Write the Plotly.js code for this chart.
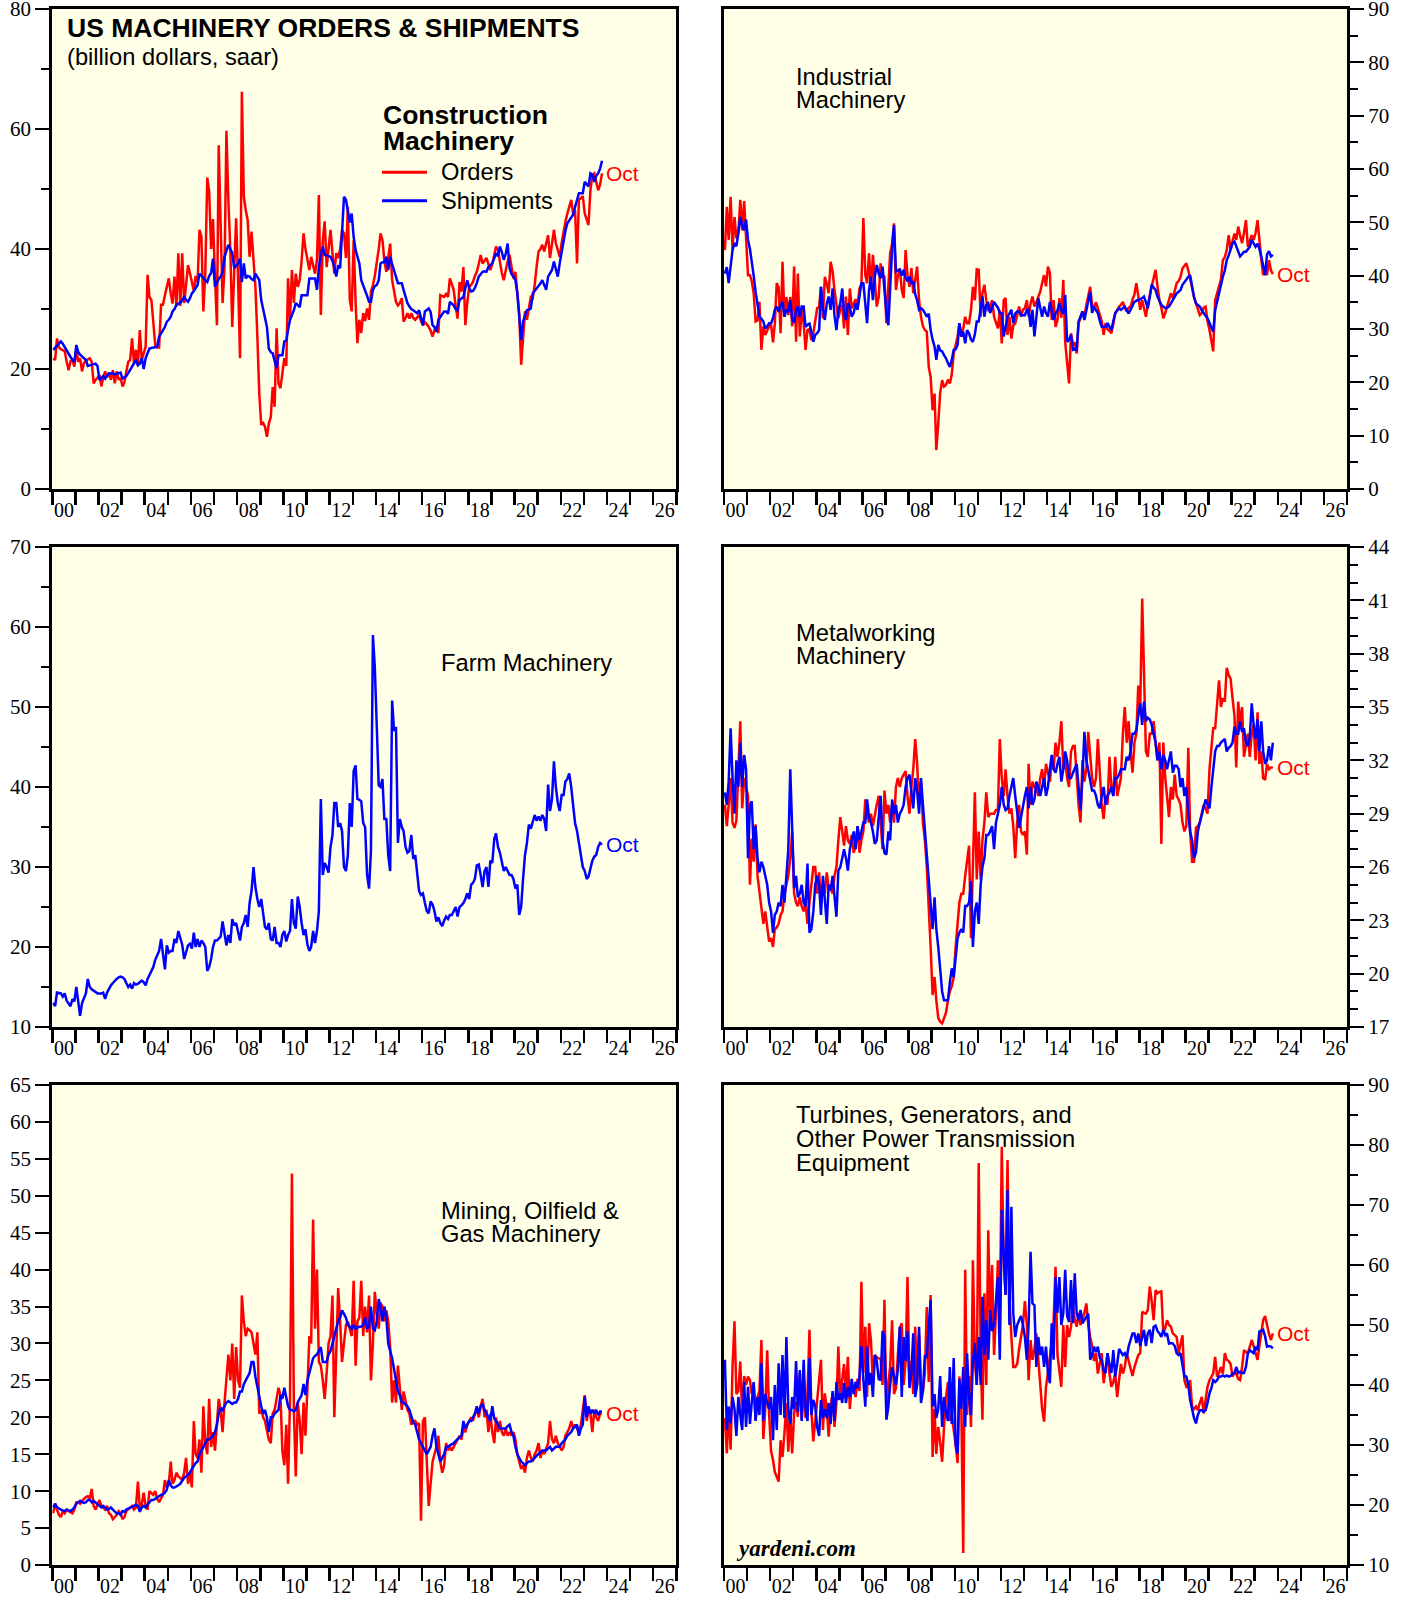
<!DOCTYPE html>
<html><head><meta charset="utf-8">
<script src="https://cdn.plot.ly/plotly-3.0.1.min.js"></script>
<style>html,body{margin:0;padding:0;background:#fff}#chart{width:1408px;height:1598px}</style>
</head><body><div id="chart"></div>
<script>
// Monthly data, Jan 2000 .. Oct 2023 (billion dollars, saar)
const startYear = 2000;
const lastLabel = "Oct";

const constructionOrders = [
21.8,21.5,25.1,23.6,23.3,23.2,23.0,21.2,19.8,21.3,21.5,20.4,
23.2,21.2,21.8,19.6,21.0,21.4,21.6,21.8,21.2,17.6,18.2,18.5,
19.0,17.1,18.5,19.6,18.7,19.3,18.2,19.8,17.6,19.6,18.2,18.5,
17.1,17.8,19.5,21.2,21.5,25.1,21.0,23.2,20.6,26.5,21.5,22.5,
23.7,35.7,32.0,31.5,27.0,24.0,23.6,23.6,30.7,30.7,32.3,33.5,
35.1,32.6,30.9,35.4,30.4,39.3,30.5,39.3,31.0,34.0,37.3,36.0,
34.3,33.0,35.5,34.5,43.2,42.0,29.6,36.0,51.9,49.6,40.0,45.0,
35.4,27.3,57.3,45.0,31.0,37.0,59.7,48.0,39.8,27.0,36.0,45.1,
35.0,21.8,66.2,48.7,46.5,44.8,38.7,42.9,38.2,33.7,25.4,15.9,
10.7,11.0,10.4,8.7,10.9,12.0,17.0,13.7,26.8,17.6,16.8,19.3,
21.8,20.5,35.1,28.2,36.5,31.0,35.9,33.7,34.8,38.0,42.6,40.0,
37.9,36.5,38.7,37.0,35.9,38.2,49.0,29.0,41.5,44.6,37.0,40.0,
43.2,39.3,35.9,39.3,38.5,40.0,43.2,42.6,38.5,47.0,31.5,29.6,
41.5,31.0,24.3,28.2,26.0,29.3,28.0,30.1,28.2,32.9,34.0,35.5,
37.6,40.0,42.6,41.5,38.0,36.2,38.5,40.9,34.8,33.0,31.2,30.6,
31.0,31.8,27.9,28.5,29.3,28.4,29.3,28.5,28.2,28.6,29.0,28.0,
27.3,27.8,27.5,27.0,26.4,25.4,26.5,27.0,26.0,32.3,32.2,32.0,
32.5,32.0,35.1,34.0,33.2,30.5,28.4,34.5,32.9,37.0,27.3,31.0,
33.7,34.0,34.5,35.5,36.2,37.5,39.0,37.6,38.0,38.5,37.5,36.5,
37.5,39.0,40.4,39.8,37.6,36.0,34.8,36.5,38.0,39.0,37.0,35.1,
36.2,33.0,29.3,20.7,26.0,29.6,28.2,30.0,32.0,31.8,34.0,37.0,
39.6,40.0,40.7,39.6,41.0,42.3,38.5,41.0,43.2,41.0,39.8,38.7,
41.0,43.2,44.5,45.9,47.0,48.2,45.9,46.5,37.6,48.2,48.5,48.8,
45.9,45.0,44.0,49.8,52.3,52.6,51.0,49.8,50.7,52.6];

const constructionShipments = [
23.2,23.6,24.0,24.3,24.6,24.2,23.6,23.0,22.5,22.0,21.5,21.2,
24.0,22.8,22.4,22.0,21.8,21.5,20.5,20.6,20.7,20.8,20.9,20.5,
18.2,18.5,18.8,18.4,18.9,19.3,19.2,19.3,19.1,19.2,19.3,19.4,
18.4,18.6,18.8,19.3,19.9,20.4,21.0,21.5,20.6,20.9,21.8,20.0,
21.8,22.6,23.4,23.5,23.6,23.6,23.7,25.4,26.0,26.5,27.0,27.9,
28.2,28.7,29.6,30.0,30.7,30.9,31.0,31.5,32.0,31.5,31.2,31.8,
32.6,33.0,33.5,34.0,35.9,35.5,35.1,34.8,34.5,35.5,36.0,38.4,
33.7,34.5,35.0,35.4,36.2,38.7,39.8,40.7,40.0,39.3,36.8,37.2,
37.6,38.4,34.5,37.6,35.1,35.5,35.4,35.0,34.8,35.9,35.3,34.8,
31.5,30.0,28.5,27.0,23.4,22.8,22.6,21.4,20.1,22.3,22.3,22.3,
24.6,24.8,26.5,28.2,29.0,29.8,31.0,30.6,30.3,32.3,32.3,32.3,
32.3,35.1,35.1,35.0,35.1,33.2,37.0,39.0,40.4,39.0,39.0,38.8,
38.7,38.0,37.0,35.4,37.3,36.8,42.6,48.7,48.2,45.9,44.4,45.9,
42.0,39.8,38.5,37.6,34.8,34.0,33.2,32.2,31.2,31.2,33.2,33.8,
34.0,34.8,37.6,37.8,37.8,38.7,36.5,38.7,37.5,36.5,35.1,34.3,
34.3,34.3,33.2,32.0,31.0,30.4,30.0,29.8,29.5,29.3,29.8,28.7,
27.3,29.6,29.8,30.1,29.5,27.3,27.0,26.2,28.2,28.6,29.0,29.6,
29.6,29.2,31.2,30.8,30.6,30.0,29.8,31.5,31.8,32.0,33.5,34.8,
33.5,32.9,33.0,33.5,34.3,35.4,35.8,36.2,36.3,36.2,37.0,37.3,
37.6,38.5,39.3,38.8,40.4,39.5,38.2,39.2,40.9,36.8,35.8,35.4,
34.8,32.6,29.3,24.8,27.9,28.8,29.8,29.9,30.1,32.6,33.0,33.4,
33.8,34.3,34.8,34.0,33.2,35.4,36.0,36.5,37.9,36.5,35.4,37.6,
39.5,41.5,43.0,44.3,44.8,45.2,45.7,47.0,48.2,49.3,49.3,49.3,
51.2,50.8,50.4,52.6,52.4,51.2,52.2,52.6,53.4,54.7];

const industrialOrders = [
44.8,52.9,46.7,54.8,44.8,51.0,47.0,48.0,54.2,48.5,54.0,47.3,
40.1,40.1,39.0,36.7,31.4,31.6,35.1,26.1,30.5,28.9,29.8,30.5,
30.8,27.5,31.0,38.6,37.8,29.2,42.6,32.3,36.0,32.6,36.0,30.5,
41.7,27.6,40.4,28.6,33.6,31.1,26.1,29.8,30.0,27.9,29.2,31.5,
33.9,34.2,37.9,32.0,39.8,38.5,36.7,42.6,40.8,37.3,34.0,32.0,
33.6,34.5,30.1,36.1,28.9,37.6,33.9,34.8,35.6,34.5,37.6,38.5,
50.8,40.1,38.6,44.2,37.3,43.9,39.8,34.2,36.0,42.3,40.0,39.8,
31.1,38.0,44.2,46.0,49.8,37.3,40.0,41.4,37.3,35.8,44.8,40.0,
37.9,41.4,36.7,39.2,41.7,35.4,32.3,30.5,29.8,29.5,22.9,21.0,
14.8,17.9,7.3,12.3,18.0,20.4,19.2,19.5,20.5,19.8,21.5,25.4,
27.0,28.6,31.1,28.6,30.1,32.3,31.1,31.1,33.6,37.9,35.4,41.2,
41.1,32.3,36.7,38.3,35.4,33.6,33.9,35.4,32.3,31.0,30.1,33.5,
27.3,35.4,35.8,28.9,32.3,28.2,30.7,31.0,33.0,34.2,32.3,33.6,
33.9,35.4,32.3,34.8,36.1,34.2,35.0,36.0,37.0,38.6,40.1,38.0,
41.7,40.5,31.7,35.4,30.4,31.7,35.8,32.1,39.2,27.6,24.0,19.8,
29.2,27.0,27.5,25.4,31.1,32.0,33.3,32.3,34.5,36.0,37.9,34.2,
34.2,35.0,33.9,33.0,31.5,28.9,31.1,30.0,29.5,29.2,31.0,33.0,
33.5,34.2,34.5,35.1,34.0,33.3,34.0,34.2,35.5,36.5,38.6,36.0,
33.6,35.4,34.0,32.3,34.5,36.5,38.0,39.5,41.1,38.0,35.4,34.0,
32.0,33.0,34.2,35.5,36.7,35.8,37.0,38.6,39.0,39.8,41.4,41.8,
42.3,41.0,39.5,37.3,36.0,34.8,33.5,32.6,33.0,34.0,34.2,31.5,
29.8,27.5,25.8,35.4,37.0,38.0,39.2,42.9,43.5,44.8,47.6,44.8,
46.5,47.9,46.7,49.2,47.5,46.1,48.0,50.4,45.4,46.5,47.6,46.7,
48.0,50.4,46.1,43.0,40.1,41.7,40.1,42.9,41.0,40.3];

const industrialShipments = [
40.4,41.6,38.6,42.5,44.8,46.1,45.5,48.0,51.0,49.5,48.5,50.5,
46.7,45.0,42.9,40.0,37.0,34.8,32.3,31.9,31.4,30.1,30.5,31.1,
31.1,32.0,33.6,34.2,33.2,34.5,35.1,32.3,33.6,33.2,35.4,32.0,
31.1,33.5,34.2,32.3,34.2,34.2,30.4,30.8,31.0,29.5,27.6,28.9,
29.2,29.8,37.9,33.9,31.7,34.8,36.1,33.6,37.6,32.5,29.8,33.6,
34.8,37.6,33.0,31.7,34.8,34.2,32.3,33.0,34.8,33.6,36.7,38.6,
38.6,35.0,31.1,37.3,39.8,35.4,39.8,42.0,40.4,39.5,41.7,37.3,
33.0,30.7,38.6,45.0,49.5,40.8,41.0,41.1,40.0,41.1,39.5,39.0,
39.8,38.6,38.9,36.5,35.4,33.6,33.9,33.6,33.0,32.3,32.9,29.8,
28.0,26.7,24.2,27.0,26.0,25.8,25.1,24.5,23.6,22.9,24.2,26.1,
26.2,27.0,31.1,28.6,29.5,27.3,29.8,29.2,28.0,27.6,29.0,31.4,
31.4,34.2,36.1,32.3,34.5,34.8,33.0,34.0,35.1,34.5,34.0,33.0,
32.9,28.6,30.5,32.3,32.9,33.6,31.1,32.9,33.3,33.3,32.6,32.6,
32.6,33.6,33.6,30.4,33.6,28.6,32.0,35.8,34.0,32.3,34.2,33.0,
32.3,35.1,33.5,31.7,32.9,33.5,34.8,33.5,32.9,36.4,27.6,28.0,
28.9,26.1,26.3,26.1,31.4,32.5,33.3,31.7,33.5,35.0,37.0,33.0,
34.2,33.5,33.0,31.5,30.4,30.4,30.4,31.1,30.5,29.8,31.5,32.9,
33.5,33.9,33.6,34.0,34.2,33.5,32.9,33.6,34.5,35.1,35.3,35.4,
35.6,35.8,36.1,35.0,33.9,36.0,38.3,37.8,37.3,36.1,35.3,34.5,
34.2,33.9,34.0,34.2,34.8,35.5,36.2,36.7,37.0,37.3,38.3,38.8,
39.5,39.8,40.1,38.0,36.0,34.8,34.5,34.2,33.5,32.9,32.5,32.0,
31.1,30.0,29.5,33.5,35.0,36.7,38.6,39.8,41.0,42.9,43.8,44.8,
46.1,46.4,45.4,44.5,43.6,44.0,44.5,44.5,45.0,45.4,46.7,46.0,
45.4,46.0,45.1,43.6,42.0,40.1,44.0,44.6,43.6,43.9];

const farmShipments = [
13.0,12.6,14.3,14.2,14.2,13.8,14.2,13.3,13.0,12.6,13.5,13.2,
15.0,13.0,11.4,13.0,13.6,14.2,16.0,15.0,14.7,14.5,14.3,14.2,
14.2,14.2,14.3,13.5,14.3,14.8,15.2,15.5,15.8,16.0,16.2,16.3,
16.2,16.0,15.5,15.0,15.3,14.8,15.5,15.3,15.4,15.6,15.8,15.6,
15.2,16.0,16.5,17.0,17.5,18.4,19.0,19.5,21.0,19.0,17.2,20.2,
19.3,19.5,19.5,21.0,20.5,22.0,21.0,20.3,18.5,19.5,20.2,20.4,
19.8,21.8,20.0,21.0,20.0,20.8,20.5,20.0,17.0,17.5,18.5,20.0,
20.8,20.8,21.0,21.3,23.2,21.5,20.2,21.5,20.5,23.5,22.7,23.0,
22.0,20.8,22.5,23.0,24.0,22.5,25.5,27.0,30.0,27.5,26.0,25.0,
26.0,24.0,22.5,22.2,23.0,21.0,20.8,22.5,20.5,20.5,20.0,21.5,
22.0,20.7,21.5,22.0,26.0,23.0,22.3,26.3,25.0,23.0,21.5,22.2,
20.3,19.5,20.0,22.0,20.5,22.0,24.5,38.5,29.0,30.5,30.0,29.3,
32.5,34.0,38.0,38.0,35.0,35.5,34.5,30.0,29.5,31.5,38.0,35.0,
42.0,42.7,38.5,38.4,38.2,35.5,35.0,29.0,27.3,32.0,59.0,55.0,
46.0,40.2,40.0,41.0,36.0,36.0,31.5,29.5,50.8,47.0,47.5,33.0,
36.0,35.0,34.5,32.5,31.8,32.0,34.0,31.0,31.5,29.0,27.0,26.5,
26.7,25.5,24.5,24.2,25.7,25.3,24.5,23.2,23.7,23.0,22.6,23.3,
23.8,23.5,24.0,24.0,24.5,25.0,23.8,25.0,25.2,25.5,26.0,26.7,
26.0,27.8,28.0,28.5,30.2,30.3,29.0,27.5,29.5,30.0,27.5,30.8,
30.5,33.5,34.2,32.5,31.8,30.5,29.5,30.0,29.5,29.0,29.0,28.5,
27.3,27.8,24.0,25.0,28.5,31.5,33.0,35.3,34.8,35.5,36.5,35.8,
36.3,35.8,36.5,36.0,34.5,40.3,37.0,38.5,43.2,40.0,38.0,37.0,
39.0,39.0,40.7,41.0,41.7,40.0,38.0,35.5,34.5,33.0,31.0,30.0,
29.5,28.5,28.8,30.0,30.8,31.3,31.5,32.5,33.0,32.8];

const metalOrders = [
29.5,28.3,29.5,31.0,28.5,28.2,28.6,31.0,34.2,29.3,31.0,30.5,
30.0,25.0,27.6,26.3,28.4,25.5,24.5,23.5,22.8,23.5,22.5,21.8,
22.0,21.5,22.5,22.6,22.8,23.3,23.5,24.5,25.0,25.5,26.5,28.0,
24.5,24.0,23.8,24.3,23.8,23.5,24.0,22.8,24.0,25.0,26.0,26.0,
24.5,25.7,24.0,25.0,24.5,25.7,24.8,24.8,24.5,25.5,26.0,27.5,
28.8,28.0,27.2,28.3,27.5,27.3,27.8,26.8,27.2,28.3,26.8,27.5,
28.0,29.8,29.0,28.5,29.0,28.3,29.0,29.5,30.0,28.5,27.0,30.3,
29.0,29.5,28.5,29.5,28.5,30.5,31.0,30.5,31.0,31.2,31.4,30.0,
29.0,30.5,31.5,33.2,31.8,29.5,30.8,28.5,27.5,26.0,24.0,21.5,
18.8,19.8,18.5,17.5,17.3,17.2,17.5,17.8,18.5,19.0,19.3,19.8,
21.5,23.0,24.0,24.5,24.5,25.5,26.5,27.2,22.0,25.5,30.2,25.3,
28.0,25.3,27.5,28.5,30.2,28.8,29.0,29.0,29.0,29.2,29.2,33.2,
31.0,30.0,31.5,30.0,29.0,29.3,28.3,26.5,28.5,29.5,28.0,27.8,
28.0,26.7,31.8,29.5,30.8,30.5,30.5,30.0,31.0,31.5,30.5,31.8,
31.3,30.8,32.0,31.5,33.0,32.2,33.0,34.2,31.5,32.0,31.0,30.5,
32.5,32.8,32.8,30.8,29.5,28.5,32.0,30.8,31.5,33.6,32.0,31.0,
30.5,31.0,33.2,31.0,29.5,28.7,30.0,29.5,32.2,30.5,30.0,32.2,
30.0,30.5,31.0,33.5,35.0,33.0,34.2,32.5,31.3,33.0,33.5,36.2,
35.0,41.1,36.0,32.5,32.2,33.5,33.5,34.2,33.0,32.0,33.0,27.3,
33.0,31.0,30.0,28.8,30.5,29.8,31.2,30.0,29.8,29.5,28.5,28.0,
28.3,32.7,28.0,26.3,26.3,28.2,28.3,28.5,29.0,29.5,29.3,29.0,
31.5,33.0,33.8,33.8,35.0,36.5,35.0,35.5,35.3,37.2,36.8,36.6,
35.5,34.5,31.6,35.3,34.0,35.0,32.2,32.8,33.5,32.2,33.5,34.0,
32.0,34.7,31.8,32.5,31.0,30.9,31.8,31.5,31.6,31.6];

const metalShipments = [
30.2,29.5,30.8,33.8,31.0,29.0,32.0,30.5,33.0,30.5,32.3,31.5,
26.5,29.5,29.7,27.0,28.3,26.5,25.7,26.3,26.0,25.5,25.0,24.0,
23.5,22.3,23.3,23.5,24.0,23.8,25.0,24.0,25.5,27.0,31.5,27.5,
24.8,25.5,24.3,24.5,25.0,24.0,23.8,26.2,22.3,22.5,23.5,25.0,
25.5,25.0,23.3,25.5,24.0,22.8,25.0,24.7,25.5,24.5,23.2,25.8,
26.0,26.5,27.0,26.5,25.8,27.0,27.5,28.0,27.0,28.3,27.5,28.0,
28.5,28.5,29.8,28.8,28.5,28.0,27.3,27.5,29.0,30.0,27.5,26.8,
26.7,28.0,27.5,29.8,29.0,29.5,28.5,29.0,29.2,29.5,30.5,31.0,
31.2,30.0,29.3,31.0,30.3,29.0,31.0,29.5,28.0,26.5,25.0,23.5,
22.5,24.3,22.5,21.5,20.0,19.0,18.5,18.5,18.5,19.5,20.3,19.8,
21.0,22.0,22.3,22.5,22.3,23.8,23.8,24.0,25.2,21.5,23.5,24.0,
22.8,25.0,26.0,26.5,27.8,27.8,28.0,28.3,27.0,28.5,29.0,29.5,
30.5,29.5,29.2,29.3,30.0,30.5,31.0,30.0,29.0,28.2,28.8,29.5,
30.0,30.5,29.3,30.5,29.5,29.8,30.8,30.5,30.0,30.5,31.0,30.0,
30.5,31.5,32.3,31.5,31.3,31.8,32.2,30.8,31.5,32.5,32.0,31.0,
31.0,31.3,31.5,31.8,30.5,29.2,31.0,33.6,32.0,31.5,30.8,30.3,
30.3,30.0,29.5,29.3,30.0,30.5,29.5,30.0,30.2,30.5,30.0,31.0,
31.0,31.2,31.5,31.5,31.5,32.2,32.0,32.5,33.5,33.5,33.7,34.5,
35.2,34.0,35.3,34.2,34.4,34.3,34.0,33.5,33.0,32.0,32.5,31.5,
32.3,32.0,31.5,32.0,32.5,31.3,31.7,31.7,31.5,30.5,31.0,30.0,
30.5,29.0,28.0,27.5,26.5,26.8,28.0,28.5,29.0,29.3,29.8,29.5,
29.3,30.5,31.5,32.5,32.8,32.8,33.0,33.1,33.2,32.5,32.7,32.8,
33.0,33.9,33.5,33.5,34.2,33.6,33.8,33.0,32.8,33.3,35.2,34.0,
33.2,34.3,32.5,34.2,32.5,31.8,32.0,32.8,32.0,33.0];

const miningOrders = [
7.0,8.3,7.5,6.8,6.5,7.3,7.0,7.5,7.3,7.2,7.0,7.5,
8.5,8.5,8.3,8.7,9.0,9.2,9.3,9.0,10.3,8.0,7.5,8.2,
8.8,8.0,7.8,7.5,8.0,7.0,6.8,6.2,6.5,6.8,7.3,7.0,
6.2,6.5,7.3,7.5,7.8,8.0,7.5,7.8,11.3,7.8,8.2,9.8,
8.0,7.5,10.0,9.8,9.5,10.0,9.0,8.5,9.0,9.5,11.5,10.5,
11.0,14.0,11.0,11.5,12.5,12.0,11.8,11.5,12.5,14.5,11.0,12.5,
10.5,19.5,15.0,14.5,17.0,12.5,21.5,16.5,15.0,22.5,16.0,18.0,
15.5,20.0,22.5,21.0,18.0,22.0,25.0,28.5,25.0,30.0,22.5,29.5,
25.0,24.0,36.5,33.0,31.0,32.0,31.8,31.5,30.0,28.5,31.5,20.5,
21.0,20.0,19.5,18.0,17.0,16.5,20.5,21.0,22.5,24.0,23.0,15.5,
13.5,19.0,11.0,22.5,53.0,21.0,12.0,22.0,19.5,15.0,22.0,17.5,
24.0,31.0,30.0,46.8,32.0,40.0,27.5,27.0,25.0,22.5,26.0,30.0,
31.0,36.5,20.0,30.0,37.5,33.0,27.5,30.0,32.5,33.0,32.0,31.0,
38.5,27.0,33.0,33.5,38.5,31.0,35.0,31.5,36.5,25.0,30.0,37.0,
34.0,32.0,35.5,35.0,33.0,34.5,33.0,29.5,22.0,25.0,22.0,27.0,
24.0,21.0,23.5,22.0,21.0,20.5,19.0,19.5,19.5,19.0,19.2,6.0,
19.5,20.0,15.0,8.0,11.0,14.0,15.0,16.0,17.5,14.0,12.5,13.5,
16.5,15.5,16.0,15.5,16.0,16.5,17.0,17.5,17.0,18.5,18.0,19.0,
19.5,20.0,19.5,20.5,21.0,20.0,21.5,22.5,20.0,21.0,18.0,20.5,
18.0,16.5,20.0,18.0,19.5,18.0,17.5,18.5,17.5,18.0,17.5,18.0,
17.0,15.0,14.0,13.0,13.5,12.5,14.5,15.5,14.5,14.0,15.0,15.5,
16.5,14.5,15.5,15.0,15.8,16.5,19.5,17.0,16.5,17.5,16.5,16.0,
15.5,16.0,17.5,18.0,18.5,19.5,18.5,19.0,18.5,18.0,19.0,21.0,
23.0,19.5,21.0,20.5,18.0,21.0,20.0,19.5,20.5,20.5];

const miningShipments = [
7.8,8.3,7.8,7.6,7.5,7.4,7.3,7.5,7.4,7.3,7.5,7.8,
8.3,8.5,8.7,8.5,8.4,8.5,8.8,8.8,8.5,8.7,8.5,8.2,
8.0,7.8,8.0,7.7,7.5,7.6,7.8,7.5,7.3,7.0,7.0,6.8,
7.3,7.2,7.5,7.6,7.8,7.9,8.0,8.2,8.0,7.2,7.8,8.0,
7.8,8.2,8.5,8.8,8.8,9.0,9.2,9.3,9.5,9.6,9.8,10.2,
11.5,10.8,10.5,10.5,10.6,10.8,11.0,11.5,11.8,12.0,12.3,12.5,
13.0,13.5,13.8,14.0,15.0,15.5,16.0,16.5,17.0,17.0,17.3,17.5,
18.0,19.0,20.5,21.3,21.0,21.5,22.0,22.2,22.0,21.8,22.0,22.0,
22.5,23.5,23.5,24.5,25.0,25.5,26.0,27.5,27.5,25.5,24.0,23.0,
21.5,20.5,21.0,20.0,18.0,20.0,20.0,20.5,20.8,21.0,23.0,22.5,
24.0,22.5,21.5,21.0,21.0,20.8,21.0,22.0,22.5,23.0,24.5,23.0,
25.0,26.0,27.0,28.0,28.3,28.5,29.0,29.5,27.5,27.5,27.5,28.5,
29.0,30.0,31.0,32.0,33.0,33.5,34.5,34.0,33.5,32.5,32.3,32.0,
32.5,32.0,32.2,32.2,32.3,32.5,33.5,32.0,32.3,35.0,32.0,31.8,
33.0,36.0,35.0,33.0,35.0,33.5,30.0,29.0,28.0,26.5,25.0,23.5,
23.0,22.0,22.0,21.8,21.5,21.0,20.0,19.3,19.0,18.0,17.0,16.5,
16.0,15.5,15.0,15.5,16.0,17.5,18.5,16.0,15.0,14.0,14.5,15.0,
16.0,16.0,16.2,16.3,16.5,16.8,17.0,17.2,17.5,19.5,18.5,19.0,
19.5,19.5,20.0,20.5,21.5,20.5,21.5,21.8,21.0,20.5,20.0,19.5,
21.5,19.8,19.5,19.0,18.5,18.5,18.5,18.5,18.8,19.0,18.0,17.5,
16.0,15.0,14.5,14.0,13.8,13.5,13.8,14.0,14.0,14.2,14.5,14.8,
15.0,15.2,15.5,15.5,15.5,15.8,16.0,15.5,15.8,16.0,16.0,16.0,
16.5,16.8,17.0,17.5,17.8,18.0,18.5,18.8,19.0,17.5,18.5,19.0,
22.8,20.0,21.5,20.5,21.0,20.5,21.0,20.3,20.8,20.8];

const turbineOrders = [
34.5,28.6,36.0,29.2,43.0,50.6,38.5,39.0,43.9,34.5,41.5,40.0,
41.4,40.8,38.5,40.3,34.2,38.0,39.0,47.5,31.0,36.0,45.8,35.3,
29.0,27.5,25.5,24.7,23.9,30.8,28.0,32.0,37.0,28.9,35.0,28.6,
35.3,37.2,34.7,42.0,34.2,40.0,34.5,38.5,49.2,35.8,30.6,34.0,
38.0,42.0,44.2,32.5,38.6,36.0,31.4,36.5,38.6,33.0,37.0,46.4,
37.5,41.0,43.5,38.5,44.7,36.0,40.2,39.5,38.0,41.0,39.0,57.2,
42.0,49.7,38.0,50.3,47.5,40.0,45.0,44.6,44.5,44.3,40.0,54.2,
35.0,40.5,43.0,50.8,38.5,39.5,45.0,49.5,50.3,40.0,44.0,58.0,
40.0,44.0,38.5,49.7,40.0,48.5,40.0,39.0,42.0,53.0,40.5,55.0,
28.0,36.0,28.5,33.0,30.5,27.2,33.0,38.0,40.5,34.0,35.0,32.0,
30.0,27.0,41.4,36.0,12.0,59.2,35.0,41.5,33.0,60.8,44.0,40.0,
77.0,45.0,34.2,55.3,40.0,65.8,50.0,60.0,45.0,52.0,60.8,50.0,
79.7,60.0,55.0,77.5,55.0,48.0,43.0,43.0,43.5,46.0,48.0,50.0,
54.0,50.0,40.8,47.5,44.2,46.0,48.6,44.0,40.0,36.0,33.9,39.7,
42.0,44.7,47.0,50.8,59.7,45.0,42.0,39.7,50.0,43.0,50.0,48.0,
49.7,53.0,51.0,49.7,52.0,50.0,51.0,52.0,53.6,50.0,48.0,46.5,
44.0,45.3,41.9,43.5,45.3,40.3,43.0,45.3,41.9,39.7,40.5,41.9,
38.0,40.5,43.5,41.9,43.0,45.3,44.2,43.0,41.5,43.0,44.2,45.0,
45.3,52.2,52.0,51.9,52.5,56.4,54.0,50.8,55.8,55.3,55.5,55.6,
48.6,49.5,50.8,50.0,49.7,48.6,48.3,48.0,45.3,47.0,48.3,40.8,
39.7,40.0,40.8,36.4,36.0,36.4,35.8,37.0,38.0,35.3,37.5,39.7,
40.8,41.5,41.9,44.7,41.4,42.0,43.0,41.9,45.3,44.2,44.0,43.5,
41.4,42.0,41.9,41.0,40.8,43.0,45.8,45.5,45.3,46.4,47.5,46.5,
45.3,44.2,46.4,48.5,50.8,51.5,49.7,48.5,47.5,48.6];

const turbineShipments = [
44.2,32.5,36.4,33.6,38.0,36.0,31.5,38.0,35.0,32.5,40.5,33.0,
39.7,33.5,37.0,40.5,34.0,38.0,35.0,43.6,34.0,38.5,37.0,36.0,
38.0,30.8,40.0,32.5,43.6,35.0,45.0,34.5,48.0,36.0,33.5,38.0,
36.0,44.0,35.5,42.5,34.0,44.2,36.0,34.0,44.5,35.0,37.5,36.5,
33.0,31.5,37.5,34.5,36.0,34.5,37.0,33.5,39.0,34.0,40.5,37.5,
38.6,37.0,40.3,37.0,39.7,38.0,41.0,38.5,40.5,39.5,41.5,46.5,
40.8,36.4,46.4,40.0,42.0,38.0,45.0,44.0,41.0,40.8,49.0,48.0,
34.2,36.4,40.0,43.0,41.5,40.0,42.5,49.7,38.0,48.0,44.0,49.0,
39.5,42.0,48.6,38.0,40.0,49.7,37.0,39.0,45.0,44.5,50.0,54.2,
36.4,38.5,34.5,36.0,41.5,33.0,38.0,35.5,34.0,43.0,33.5,44.5,
30.0,28.6,41.0,36.0,43.0,33.0,45.3,38.0,35.0,44.0,47.0,40.0,
48.0,40.0,54.7,45.0,50.8,44.2,52.5,49.0,50.0,54.0,58.0,44.2,
69.2,62.0,55.0,72.5,50.0,69.7,52.0,48.0,50.0,50.8,51.5,50.0,
48.0,44.2,50.0,62.2,53.6,53.3,43.0,48.0,45.0,46.4,43.0,46.4,
42.0,40.3,50.3,44.2,58.0,52.0,58.0,50.0,52.0,59.2,51.5,50.5,
57.5,50.3,58.6,52.0,50.8,52.5,50.3,50.8,51.5,51.9,44.2,45.0,
46.4,45.5,46.4,44.5,44.2,42.5,42.0,45.3,43.5,42.0,45.8,41.4,
43.5,46.0,45.5,45.0,45.3,44.5,46.4,47.5,48.6,48.6,47.0,48.6,
46.5,48.0,49.2,46.5,48.6,49.2,47.0,49.7,49.9,49.0,48.6,48.0,
49.2,48.3,48.6,46.9,47.0,46.9,46.5,45.3,45.0,45.3,43.0,41.4,
41.4,40.0,37.5,35.8,34.5,33.6,35.0,35.8,35.8,35.5,35.8,37.0,
38.6,39.5,40.8,40.5,40.8,41.4,41.4,41.6,41.4,41.6,41.4,41.5,
41.9,42.0,43.0,42.0,42.2,42.0,42.0,43.0,45.3,45.8,45.5,45.3,
46.4,45.8,48.9,49.0,49.2,48.1,46.4,46.5,46.4,46.1];

// ---------- layout helpers ----------
const W = 1408, H = 1598;
const RED = '#FF0000', BLUE = '#0000FF';
const serif = 'Liberation Serif, Times New Roman, serif';
const sans = 'Liberation Sans, Arial, Helvetica, sans-serif';

function monthDates(n) {
  const out = [];
  for (let i = 0; i < n; i++) {
    const y = startYear + Math.floor(i / 12), m = (i % 12) + 1;
    out.push(y + '-' + String(m).padStart(2, '0') + '-15');
  }
  return out;
}
const px = v => v / W;
const py = v => 1 - v / H;

const cols = [[52.3, 676.3], [724, 1347]];
const rows = [[9, 489], [547, 1027], [1085, 1565]];

const panels = [
  {col:0,row:0,range:[0,80],tick0:0,dtick:20,minor:10,side:'left',
   series:[[constructionOrders,RED],[constructionShipments,BLUE]],oct:RED},
  {col:1,row:0,range:[0,90],tick0:0,dtick:10,minor:5,side:'right',
   series:[[industrialOrders,RED],[industrialShipments,BLUE]],oct:RED},
  {col:0,row:1,range:[10,70],tick0:10,dtick:10,minor:5,side:'left',
   series:[[farmShipments,BLUE]],oct:BLUE},
  {col:1,row:1,range:[17,44],tick0:17,dtick:3,minor:1,side:'right',
   series:[[metalOrders,RED],[metalShipments,BLUE]],oct:RED},
  {col:0,row:2,range:[0,65],tick0:0,dtick:5,minor:null,side:'left',
   series:[[miningOrders,RED],[miningShipments,BLUE]],oct:RED},
  {col:1,row:2,range:[10,90],tick0:10,dtick:10,minor:5,side:'right',
   series:[[turbineOrders,RED],[turbineShipments,BLUE]],oct:RED}
];

const traces = [];
const layout = {
  width: W, height: H, margin:{l:0,r:0,t:0,b:0},
  paper_bgcolor:'#FFFFFF', plot_bgcolor:'#FFFEE6', showlegend:false,
  annotations: [], shapes: []
};

panels.forEach((p, i) => {
  const k = i + 1, xs = k === 1 ? '' : String(k);
  const xa = 'xaxis' + xs, ya = 'yaxis' + xs;
  const c = cols[p.col], r = rows[p.row];
  layout[xa] = {
    domain:[px(c[0]), px(c[1])], anchor:'y' + xs, type:'date',
    range:['2000-01-01','2027-01-01'], tickmode:'linear', tick0:'2000-01-01', dtick:'M12',
    ticklabelmode:'period', ticklabelstep:2, tickformat:'%y',
    ticks:'inside', ticklen:0, tickwidth:0, tickcolor:'rgba(0,0,0,0)', ticklabelstandoff:1,
    minor:{dtick:'M12', tick0:'2000-01-01', ticks:'outside', ticklen:13, tickwidth:2.5, tickcolor:'#000', showgrid:false},
    ticklabeloverflow:'allow',
    showline:true, linewidth:3, linecolor:'#000', mirror:true,
    showgrid:false, zeroline:false, fixedrange:true,
    tickfont:{family:serif, size:20, color:'#000'}
  };
  const yax = {
    domain:[py(r[1]), py(r[0])], anchor:'x' + xs, side:p.side,
    range:p.range, tickmode:'linear', tick0:p.tick0, dtick:p.dtick,
    ticks:'outside', ticklen:14, tickwidth:2, tickcolor:'#000',
    ticklabeloverflow:'allow',
    showline:true, linewidth:3, linecolor:'#000', mirror:true,
    showgrid:false, zeroline:false, fixedrange:true,
    tickfont:{family:serif, size:21, color:'#000'}
  };
  if (p.minor) yax.minor = {dtick:p.minor, tick0:p.tick0, ticks:'outside', ticklen:8, tickwidth:2, tickcolor:'#000', showgrid:false};
  layout[ya] = yax;

  p.series.forEach(([vals, color]) => {
    const dates = monthDates(vals.length);
    traces.push({x:dates, y:vals, xaxis:'x' + xs, yaxis:'y' + xs, type:'scatter', mode:'lines',
      line:{color, width:2.5}, hoverinfo:'skip'});
  });
  const first = p.series[0][0];
  const dates = monthDates(first.length);
  layout.annotations.push({xref:'x' + xs, yref:'y' + xs, x:dates[dates.length - 1], y:first[first.length - 1],
    text:lastLabel, showarrow:false, xanchor:'left', yanchor:'middle', xshift:2,
    font:{family:sans, size:21, color:p.oct}});
});

function label(text, x, y, size, bold, extra) {
  return Object.assign({xref:'paper', yref:'paper', x:px(x), y:py(y), text: bold ? '<b>' + text + '</b>' : text,
    showarrow:false, xanchor:'left', yanchor:'middle', font:{family:sans, size, color:'#000'}}, extra || {});
}
layout.annotations.push(
  label('US MACHINERY ORDERS &amp; SHIPMENTS', 65, 28.5, 26.5, true),
  label('(billion dollars, saar)', 65, 57.5, 23.7, false),
  label('Construction', 381, 115, 26.5, true),
  label('Machinery', 381, 141, 26.5, true),
  label('Orders', 439, 172.3, 23.7, false),
  label('Shipments', 439, 200.7, 23.7, false),
  label('Industrial', 794, 76.7, 23.7, false),
  label('Machinery', 794, 100, 23.7, false),
  label('Farm Machinery', 439, 663, 23.7, false),
  label('Metalworking', 794, 633, 23.7, false),
  label('Machinery', 794, 656, 23.7, false),
  label('Mining, Oilfield &amp;', 439, 1211, 23.7, false),
  label('Gas Machinery', 439, 1234.2, 23.7, false),
  label('Turbines, Generators, and', 794, 1115, 23.7, false),
  label('Other Power Transmission', 794, 1139, 23.7, false),
  label('Equipment', 794, 1162.5, 23.7, false),
  label('<b><i>yardeni.com</i></b>', 734, 1548, 23, false, {font:{family:serif, size:23, color:'#000'}})
);
layout.shapes.push(
  {type:'line', xref:'paper', yref:'paper', x0:px(382), x1:px(427), y0:py(172.3), y1:py(172.3), line:{color:RED, width:3}},
  {type:'line', xref:'paper', yref:'paper', x0:px(382), x1:px(427), y0:py(200.7), y1:py(200.7), line:{color:BLUE, width:3}}
);

[constructionOrders, constructionShipments, industrialOrders, industrialShipments, farmShipments,
 metalOrders, metalShipments, miningOrders, miningShipments, turbineOrders, turbineShipments].forEach((a, i) => {
  if (a.length !== 286) throw new Error('series ' + i + ' has ' + a.length + ' values');
});

Plotly.newPlot('chart', traces, layout, {staticPlot:true, displayModeBar:false});
</script>
</body></html>
